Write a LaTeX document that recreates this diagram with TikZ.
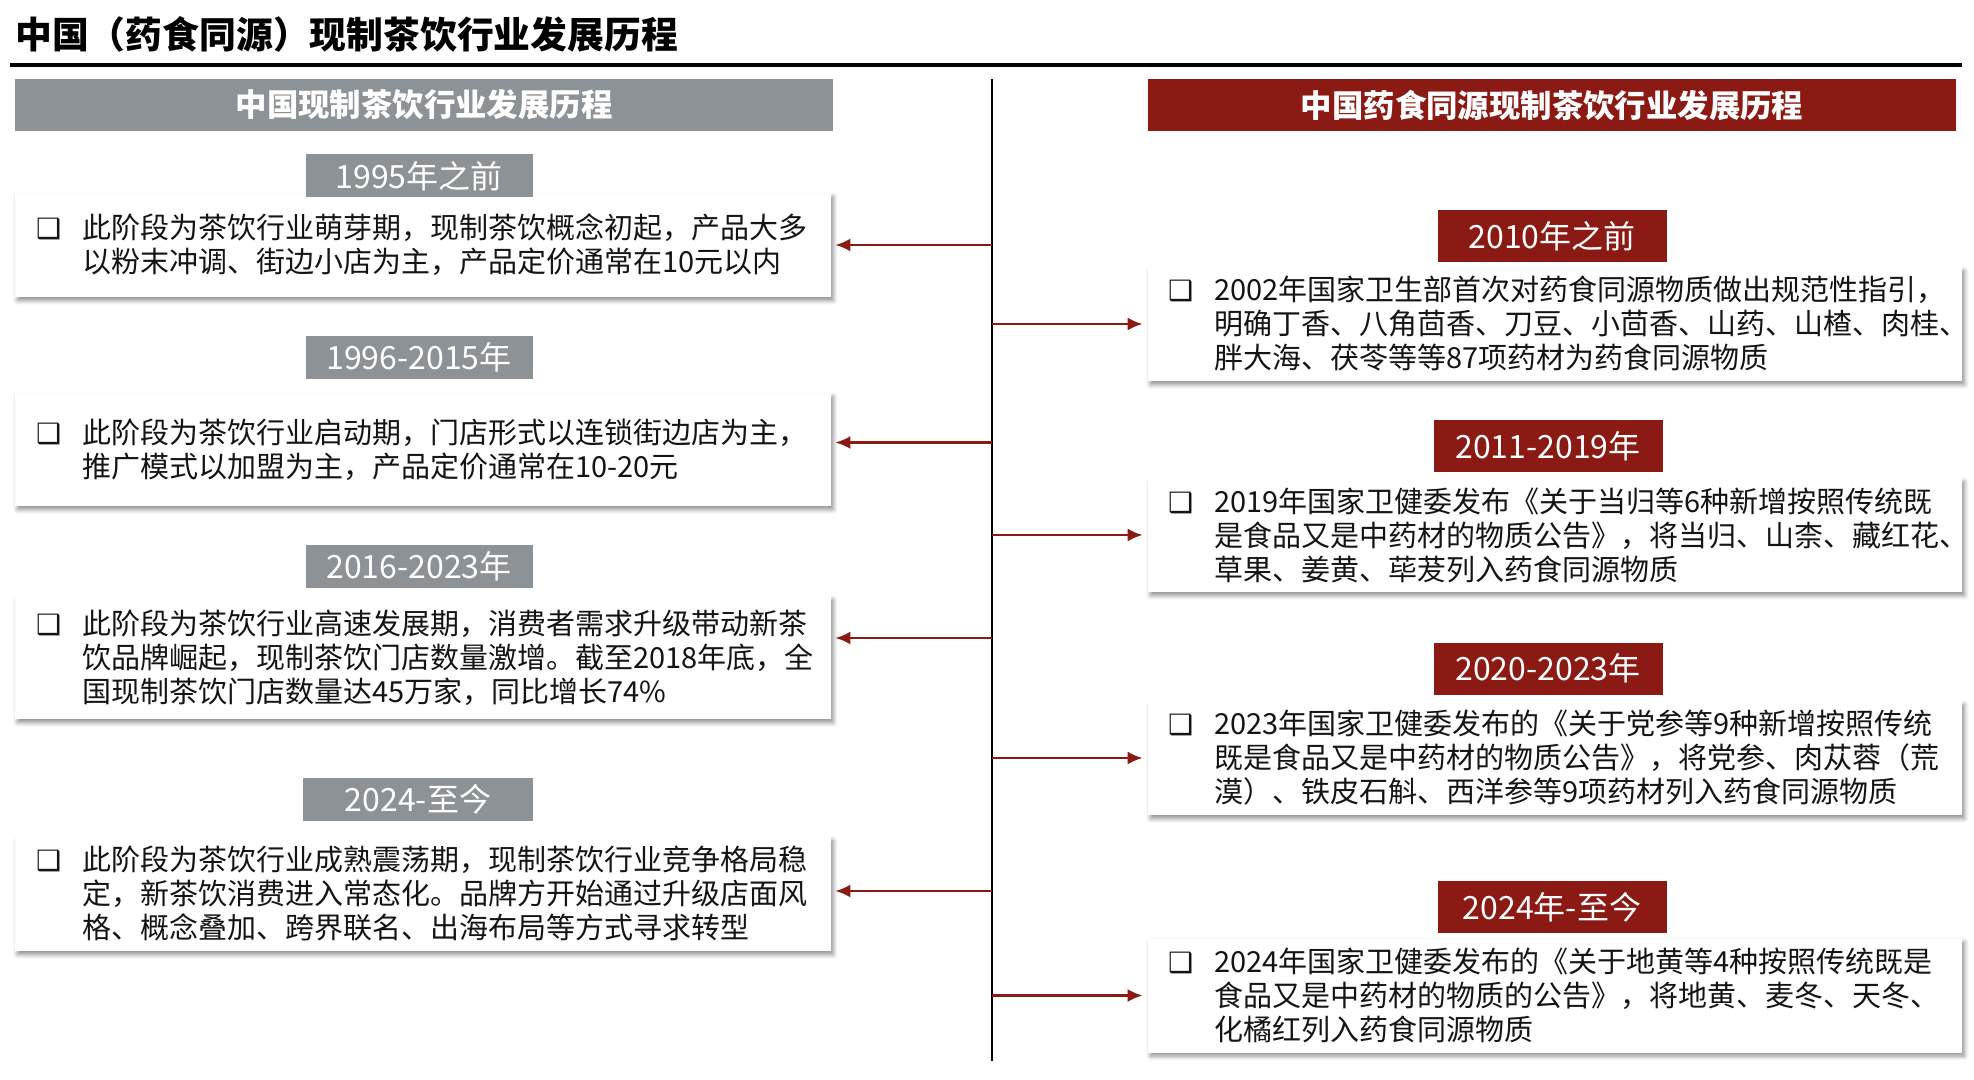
\documentclass[tikz,border=0pt]{standalone}
\usepackage{fontspec}
\setmainfont{Noto Sans CJK SC}
\newfontfamily\symfont{DejaVu Sans}
\usepackage{tikz}
\usetikzlibrary{positioning,arrows.meta,shadows.blur}
\definecolor{headgray}{RGB}{140,146,150}
\definecolor{headred}{RGB}{140,26,20}
\definecolor{bodytext}{RGB}{20,20,20}
\tikzstyle{headbar} = [inner sep=0pt, minimum height=26pt, text=white, font=\fontsize{15.7pt}{18pt}\selectfont\bfseries]
\tikzstyle{tagbox} = [inner sep=0pt, text=white, font=\fontsize{16pt}{18pt}\selectfont]
\tikzstyle{card} = [fill=white, inner sep=0pt, blur shadow={shadow xshift=1.2pt, shadow yshift=-1.8pt, shadow blur steps=6, shadow opacity=45}]
\tikzstyle{cardtext} = [inner sep=0pt, text=bodytext, font=\fontsize{14.5pt}{17pt}\selectfont]
\tikzstyle{spineline} = [line width=1.1pt, black]
\tikzstyle{arrowline} = [draw=headred, line width=1.1pt, -{Latex[length=7.5pt,width=6.5pt]}]
\newcommand{\bulitem}[1]{\makebox[23pt][l]{{\symfont\fontsize{14pt}{14pt}\selectfont ❑}}\parbox[t]{390pt}{#1}}

\begin{document}
\begin{tikzpicture}[x=0.5pt,y=-0.5pt]
\useasboundingbox (0,0) rectangle (1974,1080);

% title and rule
\node[anchor=west, inner sep=0pt, font=\fontsize{18.4pt}{20pt}\selectfont\bfseries] (title) at (15,34) {中国（药食同源）现制茶饮行业发展历程};
\draw[line width=2pt] (10,65) -- (1962,65);

% spine
\coordinate (spinetop) at (992,79);
\coordinate (spinebot) at (992,1061);
\draw[spineline] (spinetop) -- (spinebot);

% column heads
\node[headbar, fill=headgray, minimum width=409pt] (lefthead) at (424,105) {中国现制茶饮行业发展历程};
\node[headbar, fill=headred, minimum width=404pt] (righthead) at (1552,105) {中国药食同源现制茶饮行业发展历程};

% left column
\node[card, minimum width=408pt, minimum height=52pt] (l1) at (423,245) {};
\node[cardtext, right=10.5pt of l1.west] (l1t) {\bulitem{此阶段为茶饮行业萌芽期，现制茶饮概念初起，产品大多\\以粉末冲调、街边小店为主，产品定价通常在10元以内}};
\node[tagbox, fill=headgray, minimum width=113.5pt, minimum height=21.5pt] (l1tag) at (419,176) {1995年之前};

\node[card, minimum width=408pt, minimum height=56.5pt] (l2) at (423,449.5) {};
\node[cardtext, right=10.5pt of l2.west] (l2t) {\bulitem{此阶段为茶饮行业启动期，门店形式以连锁街边店为主，\\推广模式以加盟为主，产品定价通常在10-20元}};
\node[tagbox, fill=headgray, minimum width=113.5pt, minimum height=21.5pt] (l2tag) at (419,357.5) {1996-2015年};

\node[card, minimum width=408pt, minimum height=61.5pt] (l3) at (423,657.5) {};
\node[cardtext, right=10.5pt of l3.west] (l3t) {\bulitem{此阶段为茶饮行业高速发展期，消费者需求升级带动新茶\\饮品牌崛起，现制茶饮门店数量激增。截至2018年底，全\\国现制茶饮门店数量达45万家，同比增长74\%}};
\node[tagbox, fill=headgray, minimum width=113.5pt, minimum height=21.5pt] (l3tag) at (419,566.5) {2016-2023年};

\node[card, minimum width=408pt, minimum height=57pt] (l4) at (423,894) {};
\node[cardtext, right=10.5pt of l4.west] (l4t) {\bulitem{此阶段为茶饮行业成熟震荡期，现制茶饮行业竞争格局稳\\定，新茶饮消费进入常态化。品牌方开始通过升级店面风\\格、概念叠加、跨界联名、出海布局等方式寻求转型}};
\node[tagbox, fill=headgray, minimum width=115pt, minimum height=21.5pt] (l4tag) at (418,799.5) {2024-至今};

% right column
\node[card, minimum width=407pt, minimum height=57pt] (r1) at (1555,324) {};
\node[cardtext, right=10pt of r1.west] (r1t) {\bulitem{2002年国家卫生部首次对药食同源物质做出规范性指引，\\明确丁香、八角茴香、刀豆、小茴香、山药、山楂、肉桂、\\胖大海、茯苓等等87项药材为药食同源物质}};
\node[tagbox, fill=headred, minimum width=114.5pt, minimum height=26pt] (r1tag) at (1552,236) {2010年之前};

\node[card, minimum width=407pt, minimum height=57pt] (r2) at (1555,535) {};
\node[cardtext, right=10pt of r2.west] (r2t) {\bulitem{2019年国家卫健委发布《关于当归等6种新增按照传统既\\是食品又是中药材的物质公告》，将当归、山柰、藏红花、\\草果、姜黄、荜茇列入药食同源物质}};
\node[tagbox, fill=headred, minimum width=114.5pt, minimum height=26pt] (r2tag) at (1548,446) {2011-2019年};

\node[card, minimum width=407pt, minimum height=57pt] (r3) at (1555,758) {};
\node[cardtext, right=10pt of r3.west] (r3t) {\bulitem{2023年国家卫健委发布的《关于党参等9种新增按照传统\\既是食品又是中药材的物质公告》，将党参、肉苁蓉（荒\\漠）、铁皮石斛、西洋参等9项药材列入药食同源物质}};
\node[tagbox, fill=headred, minimum width=114.5pt, minimum height=26pt] (r3tag) at (1548,668.5) {2020-2023年};

\node[card, minimum width=407pt, minimum height=57pt] (r4) at (1555,995.5) {};
\node[cardtext, right=10pt of r4.west] (r4t) {\bulitem{2024年国家卫健委发布的《关于地黄等4种按照传统既是\\食品又是中药材的物质的公告》，将地黄、麦冬、天冬、\\化橘红列入药食同源物质}};
\node[tagbox, fill=headred, minimum width=114.5pt, minimum height=26pt] (r4tag) at (1552,907) {2024年-至今};

% arrows from the spine
\draw[arrowline] (l1.east -| spinetop) -- ([xshift=2pt]l1.east);
\draw[arrowline] ([yshift=3.5pt]l2.east -| spinetop) -- ([xshift=2pt,yshift=3.5pt]l2.east);
\draw[arrowline] ([yshift=9.75pt]l3.east -| spinetop) -- ([xshift=2pt,yshift=9.75pt]l3.east);
\draw[arrowline] ([yshift=1.5pt]l4.east -| spinetop) -- ([xshift=2pt,yshift=1.5pt]l4.east);
\draw[arrowline] (r1.west -| spinetop) -- ([xshift=-2.5pt]r1.west);
\draw[arrowline] (r2.west -| spinetop) -- ([xshift=-2.5pt]r2.west);
\draw[arrowline] (r3.west -| spinetop) -- ([xshift=-2.5pt]r3.west);
\draw[arrowline] (r4.west -| spinetop) -- ([xshift=-2.5pt]r4.west);
\end{tikzpicture}
\end{document}
